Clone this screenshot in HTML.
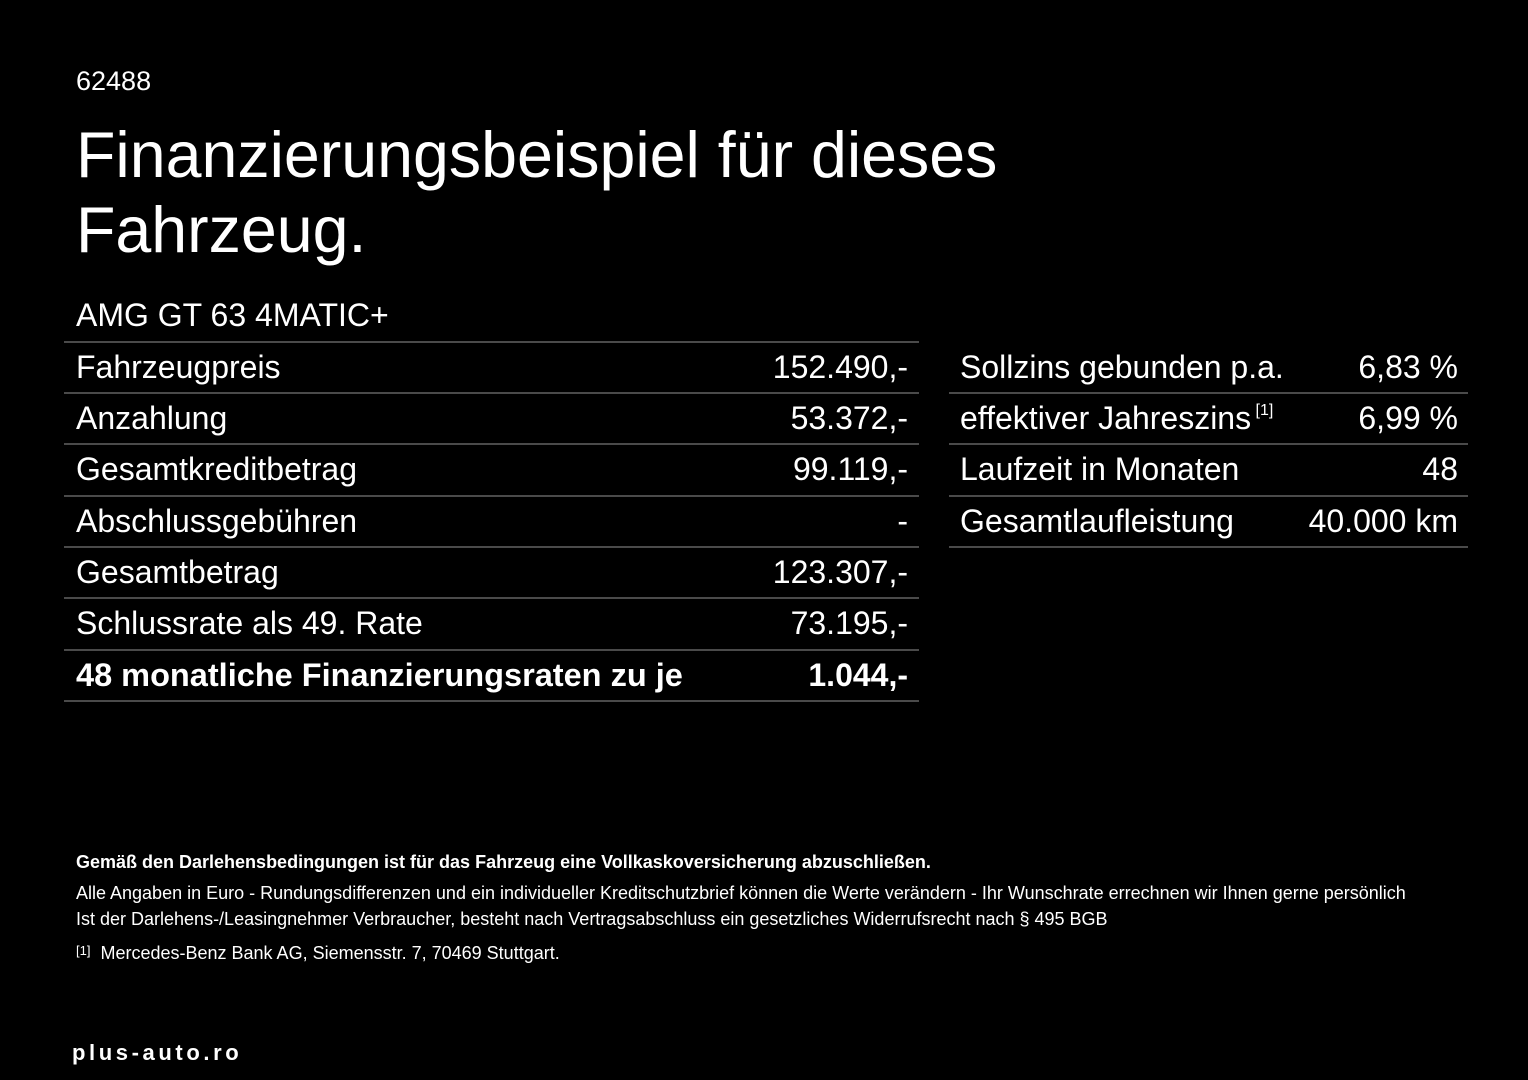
<!DOCTYPE html>
<html><head><meta charset="utf-8"><style>
body{margin:0;width:1528px;height:1080px;background:#000;color:#fff;font-family:"Liberation Sans",Arial,sans-serif;position:relative;overflow:hidden}
.a{position:absolute;white-space:nowrap}
.l{position:absolute;height:2px;background:#4a4a4a}
.t{position:absolute;font-size:32px;line-height:51px;white-space:nowrap}
.r{text-align:right}
sup{font-size:16px;position:relative;top:-14px;vertical-align:baseline;line-height:0}
</style></head><body>
<div class="a" style="left:76px;top:66px;font-size:27px">62488</div>
<div class="a" style="left:76px;top:118px;font-size:64.5px;line-height:75px">Finanzierungsbeispiel für dieses<br>Fahrzeug.</div>
<div class="a" style="left:76px;top:297px;font-size:32px">AMG GT 63 4MATIC+</div>

<div class="l" style="left:64px;width:855px;top:341px"></div>
<div class="l" style="left:64px;width:855px;top:392px"></div>
<div class="l" style="left:64px;width:855px;top:443px"></div>
<div class="l" style="left:64px;width:855px;top:495px"></div>
<div class="l" style="left:64px;width:855px;top:546px"></div>
<div class="l" style="left:64px;width:855px;top:597px"></div>
<div class="l" style="left:64px;width:855px;top:649px"></div>
<div class="l" style="left:64px;width:855px;top:700px"></div>

<div class="t" style="left:76px;top:342px">Fahrzeugpreis</div>
<div class="t" style="left:76px;top:393px">Anzahlung</div>
<div class="t" style="left:76px;top:444px">Gesamtkreditbetrag</div>
<div class="t" style="left:76px;top:496px">Abschlussgebühren</div>
<div class="t" style="left:76px;top:547px">Gesamtbetrag</div>
<div class="t" style="left:76px;top:598px">Schlussrate als 49. Rate</div>
<div class="t" style="left:76px;top:650px;font-weight:bold;font-size:32.5px">48 monatliche Finanzierungsraten zu je</div>

<div class="t r" style="right:620px;top:342px">152.490,-</div>
<div class="t r" style="right:620px;top:393px">53.372,-</div>
<div class="t r" style="right:620px;top:444px">99.119,-</div>
<div class="t r" style="right:620px;top:496px">-</div>
<div class="t r" style="right:620px;top:547px">123.307,-</div>
<div class="t r" style="right:620px;top:598px">73.195,-</div>
<div class="t r" style="right:620px;top:650px;font-weight:bold">1.044,-</div>

<div class="l" style="left:949px;width:519px;top:392px"></div>
<div class="l" style="left:949px;width:519px;top:443px"></div>
<div class="l" style="left:949px;width:519px;top:495px"></div>
<div class="l" style="left:949px;width:519px;top:546px"></div>

<div class="t" style="left:960px;top:342px">Sollzins gebunden p.a.</div>
<div class="t" style="left:960px;top:393px">effektiver Jahreszins<sup> [1]</sup></div>
<div class="t" style="left:960px;top:444px">Laufzeit in Monaten</div>
<div class="t" style="left:960px;top:496px">Gesamtlaufleistung</div>
<div class="t r" style="right:70px;top:342px">6,83 %</div>
<div class="t r" style="right:70px;top:393px">6,99 %</div>
<div class="t r" style="right:70px;top:444px">48</div>
<div class="t r" style="right:70px;top:496px">40.000 km</div>

<div class="a" style="left:76px;top:852px;font-size:18px;font-weight:bold">Gemäß den Darlehensbedingungen ist für das Fahrzeug eine Vollkaskoversicherung abzuschließen.</div>
<div class="a" style="left:76px;top:880px;font-size:18px;line-height:26px">Alle Angaben in Euro - Rundungsdifferenzen und ein individueller Kreditschutzbrief können die Werte verändern - Ihr Wunschrate errechnen wir Ihnen gerne persönlich<br>Ist der Darlehens-/Leasingnehmer Verbraucher, besteht nach Vertragsabschluss ein gesetzliches Widerrufsrecht nach § 495 BGB</div>
<div class="a" style="left:76px;top:943px;font-size:18px"><span style="font-size:13px;position:relative;top:-4px">[1]</span>&nbsp; Mercedes-Benz Bank AG, Siemensstr. 7, 70469 Stuttgart.</div>

<div class="a" style="left:72px;top:1040px;font-size:22px;font-weight:bold;letter-spacing:3.6px">plus-auto.ro</div>
</body></html>
